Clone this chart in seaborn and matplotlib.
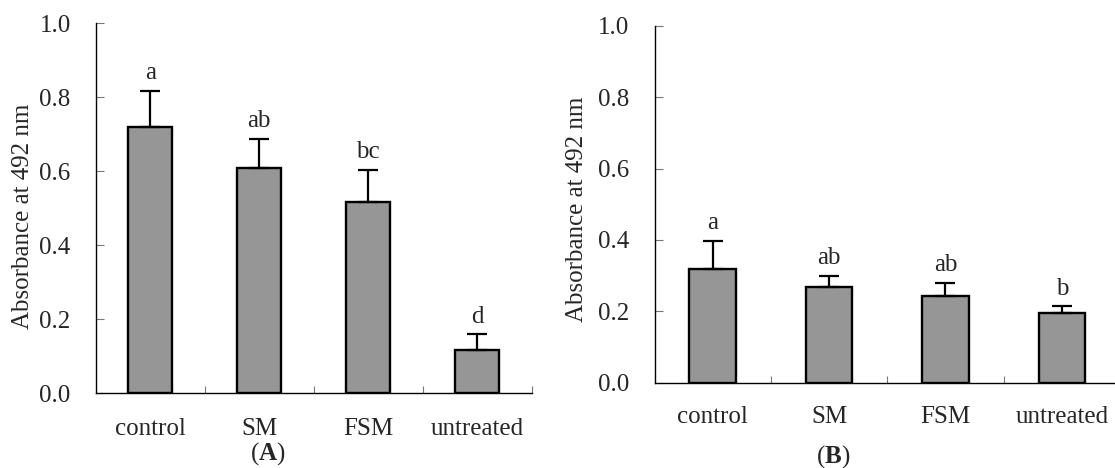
import numpy as np
import matplotlib
matplotlib.use('Agg')
import matplotlib.pyplot as plt
import seaborn as sns

sns.set_style('ticks')
plt.rcParams['font.family'] = ['Liberation Serif', 'DejaVu Serif']
plt.rcParams['mathtext.fontset'] = 'custom'
plt.rcParams['mathtext.rm'] = 'Liberation Serif'
plt.rcParams['mathtext.bf'] = 'Liberation Serif:bold'

# data
groups = ['control', 'SM', 'FSM', 'untreated']

mean_a = [0.720, 0.608, 0.516, 0.117]
err_a = [0.097, 0.079, 0.087, 0.042]
letters_a = ['a', 'ab', 'bc', 'd']

mean_b = [0.319, 0.267, 0.243, 0.196]
err_b = [0.078, 0.032, 0.037, 0.018]
letters_b = ['a', 'ab', 'ab', 'b']

fs = 18
fig = plt.figure(figsize=(11.15, 4.68), dpi=100)
ax_a = fig.add_axes([0.0858, 0.1596, 0.391, 0.7906])
ax_b = fig.add_axes([0.587, 0.1823, 0.4175, 0.7622])


def draw_panel(ax, means, errs, letters, label_y, pad):
    sns.barplot(x=groups, y=means, color='#969696', saturation=1,
                edgecolor='black', linewidth=1.7, width=0.4, ax=ax)
    xs = [p.get_x() + p.get_width() / 2 for p in ax.patches]
    # upper error bars only
    ax.errorbar(xs, means, yerr=[np.zeros(len(errs)), errs], fmt='none',
                ecolor='black', elinewidth=1.6, capsize=7.5, capthick=1.6)
    for x, m, e, t in zip(xs, means, errs, letters):
        ax.annotate(t, (x, m + e), xytext=(0, 8.5), textcoords='offset points',
                    ha='center', va='baseline', fontsize=fs)

    ax.set_xlim(-0.5, 3.5)
    ax.set_ylim(0, 1.0)
    ax.set_yticks(np.arange(0, 1.01, 0.2))
    ax.set_yticklabels(['%.1f' % v for v in np.arange(0, 1.01, 0.2)])
    ax.set_xticks([0.5, 1.5, 2.5, 3.5], minor=True)
    ax.tick_params(axis='x', which='major', length=0, pad=pad, labelsize=fs)
    ax.tick_params(axis='x', which='minor', direction='in', length=5,
                   width=0.8, color='#777777')
    ax.tick_params(axis='y', direction='in', length=5.5, width=0.8,
                   color='#777777', pad=18, labelsize=fs)
    for s in ['top', 'right']:
        ax.spines[s].set_visible(False)
    for s in ['left', 'bottom']:
        ax.spines[s].set_color('black')
        ax.spines[s].set_linewidth(1.0)
    ax.set_xlabel('')
    ax.set_ylabel('Absorbance at 492 nm', fontsize=fs, va='center')
    ax.yaxis.set_label_coords(-0.167, label_y)


draw_panel(ax_a, mean_a, err_a, letters_a, 0.478, 17.5)
draw_panel(ax_b, mean_b, err_b, letters_b, 0.487, 17)

fig.text(267.5 / 1115, 1 - 453.3 / 468, r'($\mathbf{A}$)', ha='center', va='center', fontsize=fs)
fig.text(833 / 1115, 1 - 456.7 / 468, r'($\mathbf{B}$)', ha='center', va='center', fontsize=fs)

fig.savefig('out.png', dpi=100)
